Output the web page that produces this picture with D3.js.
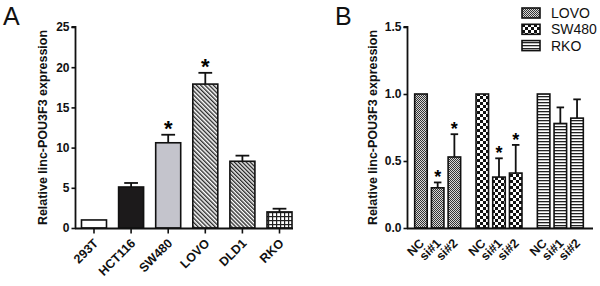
<!DOCTYPE html>
<html><head><meta charset="utf-8">
<script src="https://cdn.jsdelivr.net/npm/d3@7"></script>
<style>
html,body{margin:0;padding:0;background:#fff;}
svg text{font-family:"Liberation Sans",Arial,sans-serif;}
</style></head>
<body><svg id="chart" width="600" height="286"></svg>
<script>
// Panel A data
const catsA = ["293T","HCT116","SW480","LOVO","DLD1","RKO"];
const valsA = [1.0, 5.1, 10.6, 17.9, 8.3, 2.0];
const errA  = [0.0, 0.5, 1.0, 1.4, 0.7, 0.4];
const sigA  = [false,false,true,true,false,false];
const ticksA = [0,5,10,15,20,25];
const fillsA = ["#ffffff","#1c1a1b","#c4c4cc","url(#hatchA)","url(#hatchB)","url(#gridA)"];

// Panel B data
const groupsB = ["LOVO","SW480","RKO"];
const condsB = ["NC","si#1","si#2"];
const valsB = {LOVO:[1.0,0.30,0.53], SW480:[1.0,0.38,0.41], RKO:[1.0,0.78,0.82]};
const errB  = {LOVO:[0,0.04,0.17], SW480:[0,0.14,0.21], RKO:[0,0.12,0.14]};
const sigB  = {LOVO:[false,true,true], SW480:[false,true,true], RKO:[false,false,false]};
const ticksB = [0.0,0.5,1.0,1.5];
const fillsB = {LOVO:"url(#fineChk)", SW480:"url(#bigChk)", RKO:"url(#hstripe)"};

const svg = d3.select("#chart");
const defs = svg.append("defs");
// diagonal hatch "\\"
function hatch(id, gap, sw){
  const p = defs.append("pattern").attr("id",id).attr("patternUnits","userSpaceOnUse")
    .attr("width",gap).attr("height",gap).attr("patternTransform","rotate(-45)");
  p.append("rect").attr("width",gap).attr("height",gap).attr("fill","#fff");
  p.append("rect").attr("x",0).attr("y",0).attr("width",sw).attr("height",gap).attr("fill","#2a2a2a");
}
hatch("hatchA",3.0,1.4);
hatch("hatchB",2.8,1.4);
{
  const p = defs.append("pattern").attr("id","gridA").attr("patternUnits","userSpaceOnUse").attr("width",4).attr("height",4);
  p.append("rect").attr("width",4).attr("height",4).attr("fill","#fff");
  p.append("rect").attr("x",0).attr("y",0).attr("width",1.2).attr("height",4).attr("fill","#222");
  p.append("rect").attr("x",0).attr("y",0).attr("width",4).attr("height",1.2).attr("fill","#222");
}
{
  const p = defs.append("pattern").attr("id","fineChk").attr("patternUnits","userSpaceOnUse").attr("width",2).attr("height",2);
  p.append("rect").attr("width",2).attr("height",2).attr("fill","#d8d8d8");
  p.append("rect").attr("width",1).attr("height",1).attr("fill","#333");
  p.append("rect").attr("x",1).attr("y",1).attr("width",1).attr("height",1).attr("fill","#333");
}
{
  const p = defs.append("pattern").attr("id","bigChk").attr("patternUnits","userSpaceOnUse").attr("width",6).attr("height",6);
  p.append("rect").attr("width",6).attr("height",6).attr("fill","#fff");
  p.append("rect").attr("width",3).attr("height",3).attr("fill","#111");
  p.append("rect").attr("x",3).attr("y",3).attr("width",3).attr("height",3).attr("fill","#111");
}
{
  const p = defs.append("pattern").attr("id","hstripe").attr("patternUnits","userSpaceOnUse").attr("width",4).attr("height",3);
  p.append("rect").attr("width",4).attr("height",3).attr("fill","#fff");
  p.append("rect").attr("y",0).attr("width",4).attr("height",1.3).attr("fill","#222");
}

const Y0 = 228, Y1 = 27;
const fontTick = "12px", fontLab = "12.5px";

// ---------- Panel A ----------
const xA = d3.scaleBand().domain(catsA).range([76,297.5]).paddingInner(0.326).paddingOuter(0.148);
const yA = d3.scaleLinear().domain([0,25]).range([Y0,Y1]);
const gA = svg.append("g");

gA.selectAll("rect.bar").data(catsA).join("rect")
  .attr("x",d=>xA(d)).attr("width",xA.bandwidth())
  .attr("y",(d,i)=>yA(valsA[i])).attr("height",(d,i)=>Y0-yA(valsA[i]))
  .attr("fill",(d,i)=>fillsA[i]).attr("stroke","#111").attr("stroke-width",1.6);

catsA.forEach((c,i)=>{
  if(errA[i]<=0) return;
  const cx = xA(c)+xA.bandwidth()/2, top = yA(valsA[i]+errA[i]);
  const cw = xA.bandwidth()*0.55;
  gA.append("line").attr("x1",cx).attr("x2",cx).attr("y1",yA(valsA[i])).attr("y2",top).attr("stroke","#111").attr("stroke-width",1.8);
  gA.append("line").attr("x1",cx-cw/2).attr("x2",cx+cw/2).attr("y1",top).attr("y2",top).attr("stroke","#111").attr("stroke-width",1.8);
  if(sigA[i]) gA.append("text").attr("x",cx).attr("y",top+1).attr("text-anchor","middle")
    .attr("font-size","22px").attr("font-weight","bold").text("*");
});

const axYA = gA.append("g").attr("transform","translate(75.5,0)")
  .call(d3.axisLeft(yA).tickValues(ticksA).tickFormat(d3.format("d")).tickSize(4).tickPadding(2));
axYA.selectAll("text").attr("font-size",fontTick).attr("font-weight","bold").attr("fill","#111");
axYA.selectAll("line").attr("stroke","#111").attr("stroke-width",1.6);
axYA.select(".domain").attr("stroke","#111").attr("stroke-width",1.8).attr("d",`M-4,${Y1}H0V${Y0+1}`);

const axXA = gA.append("g").attr("transform",`translate(0,${Y0+0.5})`)
  .call(d3.axisBottom(xA).tickSize(5).tickFormat(""));
axXA.select(".domain").attr("stroke","#111").attr("stroke-width",1.8).attr("d","M75,0H293");
axXA.selectAll("line").attr("stroke","#111").attr("stroke-width",1.6);
gA.selectAll("text.xl").data(catsA).join("text").attr("class","xl")
  .attr("transform",d=>`translate(${xA(d)+xA.bandwidth()/2+5},244) rotate(-45)`)
  .attr("text-anchor","end").attr("font-size",fontLab).attr("font-weight","bold").attr("fill","#111").text(d=>d);

gA.append("text").attr("transform",`translate(47,${(Y0+Y1)/2}) rotate(-90)`)
  .attr("text-anchor","middle").attr("font-size","12.5px").attr("font-weight","bold").attr("fill","#111")
  .text("Relative linc-POU3F3 expression");
svg.append("text").attr("x",3).attr("y",24.5).attr("font-size","25px").attr("fill","#111").text("A");

// ---------- Panel B ----------
const xB = d3.scaleBand().domain(groupsB).range([407,591]).padding(0);
const xBi = d3.scaleBand().domain(condsB).range([0,xB.bandwidth()]).paddingInner(0.25).paddingOuter(0.46);
const yB = d3.scaleLinear().domain([0,1.5]).range([Y0,Y1]);
const gB = svg.append("g");

groupsB.forEach(g=>{
  condsB.forEach((c,j)=>{
    const x = xB(g)+xBi(c), w = xBi.bandwidth(), v = valsB[g][j];
    gB.append("rect").attr("x",x).attr("width",w).attr("y",yB(v)).attr("height",Y0-yB(v))
      .attr("fill",fillsB[g]).attr("stroke","#111").attr("stroke-width",1.6);
    const e = errB[g][j];
    const cx = x+w/2;
    if(e>0){
      const top = yB(v+e), cw = w*0.6;
      gB.append("line").attr("x1",cx).attr("x2",cx).attr("y1",yB(v)).attr("y2",top).attr("stroke","#111").attr("stroke-width",1.8);
      gB.append("line").attr("x1",cx-cw/2).attr("x2",cx+cw/2).attr("y1",top).attr("y2",top).attr("stroke","#111").attr("stroke-width",1.8);
      if(sigB[g][j]) gB.append("text").attr("x",cx).attr("y",top+1).attr("text-anchor","middle")
        .attr("font-size","18px").attr("font-weight","bold").text("*");
    }
    gB.append("text").attr("transform",`translate(${cx+4},244) rotate(-45)`)
      .attr("text-anchor","end").attr("font-size",fontLab).attr("font-weight","bold").attr("fill","#111").text(c);
  });
});

const axYB = gB.append("g").attr("transform","translate(407.5,0)")
  .call(d3.axisLeft(yB).tickValues(ticksB).tickFormat(d3.format(".1f")).tickSize(4).tickPadding(2));
axYB.selectAll("text").attr("font-size",fontTick).attr("font-weight","bold").attr("fill","#111");
axYB.selectAll("line").attr("stroke","#111").attr("stroke-width",1.6);
axYB.select(".domain").attr("stroke","#111").attr("stroke-width",1.8).attr("d",`M-4,${Y1}H0V${Y0+1}`);
gB.append("line").attr("x1",407).attr("x2",593).attr("y1",Y0+0.5).attr("y2",Y0+0.5).attr("stroke","#111").attr("stroke-width",1.8);

gB.append("text").attr("transform",`translate(377,${(Y0+Y1)/2}) rotate(-90)`)
  .attr("text-anchor","middle").attr("font-size","12.5px").attr("font-weight","bold").attr("fill","#111")
  .text("Relative linc-POU3F3 expression");
svg.append("text").attr("x",335).attr("y",24.5).attr("font-size","25px").attr("fill","#111").text("B");

// Legend
const lg = svg.append("g");
groupsB.forEach((g,i)=>{
  const y = 8 + i*16.3;
  lg.append("rect").attr("x",522).attr("y",y).attr("width",18).attr("height",10)
    .attr("fill",fillsB[g]).attr("stroke","#111").attr("stroke-width",1.6);
  lg.append("text").attr("x",551).attr("y",y+10).attr("font-size","14px").attr("fill","#111").text(g);
});
</script></body></html>
